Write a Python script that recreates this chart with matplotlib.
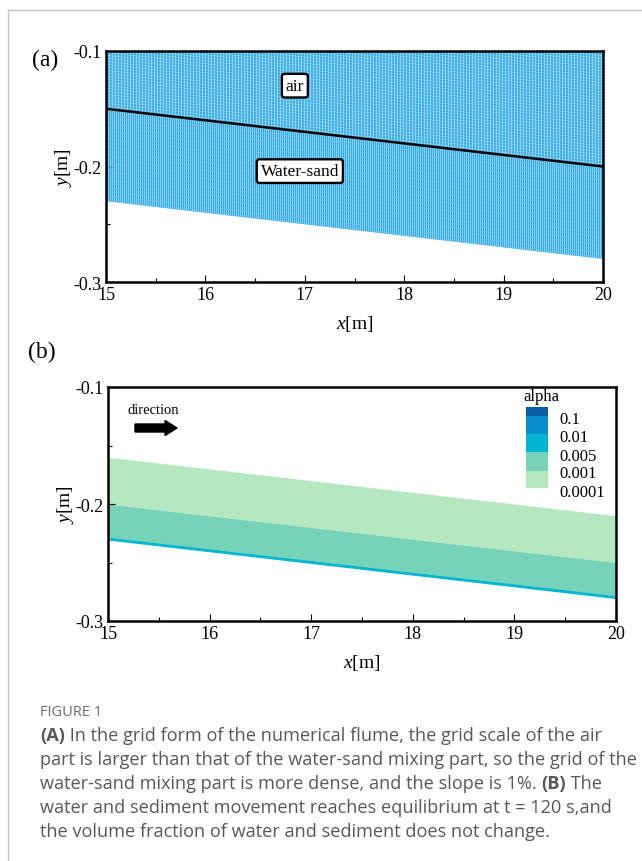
import numpy as np
import matplotlib
matplotlib.use("Agg")
import matplotlib.pyplot as plt
from matplotlib.patches import Polygon, Rectangle, FancyArrow
from matplotlib.collections import LineCollection
from matplotlib.lines import Line2D

# ---- data -------------------------------------------------------------
x_ends = [15.0, 20.0]                 # flume section shown [m]
surface_y = [-0.15, -0.20]            # free surface / mixing interface (a)
bed_y = [-0.23, -0.28]                # sloped bed, slope 1%
top_y = -0.10

# volume fraction bands (b)
alpha_0001_top = [-0.16, -0.21]
alpha_001_top = [-0.20, -0.25]
alpha_bed = [-0.23, -0.28]

alpha_levels = ["0.1", "0.01", "0.005", "0.001", "0.0001"]
alpha_colors = ["#0a5ca3", "#0a8dcb", "#00b6d2", "#76d3b9", "#b5e7c0"]

x_ticks = [15, 16, 17, 18, 19, 20]
y_ticks = [-0.3, -0.2, -0.1]
y_ticklabels = ["-0.3", "-0.2", "-0.1"]

W, H = 642, 862
serif = ["Liberation Serif", "DejaVu Serif"]

plt.rcParams["mathtext.fontset"] = "custom"
plt.rcParams["mathtext.it"] = "Liberation Serif:italic"
plt.rcParams["mathtext.rm"] = "Liberation Serif"

fig = plt.figure(figsize=(W / 100, H / 100), dpi=100)


def fig_rect(left, top, right, bottom):
    return [left / W, 1 - bottom / H, (right - left) / W, (bottom - top) / H]


def style_axes(ax):
    ax.set_xlim(15, 20)
    ax.set_ylim(-0.3, -0.1)
    ax.set_xticks(x_ticks)
    ax.set_xticks(np.arange(15.5, 20, 1.0), minor=True)
    ax.set_yticks(y_ticks)
    ax.set_yticklabels(y_ticklabels)
    ax.set_yticks([-0.25, -0.15], minor=True)
    ax.tick_params(which="both", direction="in", top=False, right=False)
    ax.tick_params(which="major", length=5, width=0.8, labelsize=13, pad=3)
    ax.tick_params(which="minor", length=3, width=0.8)
    for lab in ax.get_xticklabels() + ax.get_yticklabels():
        lab.set_family(serif)
    for s in ax.spines.values():
        s.set_linewidth(1.8)
        s.set_zorder(10)
    ax.set_xlabel("$\\it{x}$[m]", fontsize=14, family=serif, labelpad=7)
    ax.set_ylabel("$\\it{y}$[m]", fontsize=14, family=serif, labelpad=0)


# ---- panel (a): computational grid -----------------------------------
ax1 = fig.add_axes(fig_rect(106, 52, 603, 283))
style_axes(ax1)
xs = np.array(x_ends)
air_poly = Polygon(list(zip(xs, [top_y, top_y])) + list(zip(xs[::-1], surface_y[::-1])),
                   closed=True, facecolor="#3aaee6", edgecolor="none", zorder=1)
water_poly = Polygon(list(zip(xs, surface_y)) + list(zip(xs[::-1], bed_y[::-1])),
                     closed=True, facecolor="#2ea8e3", edgecolor="none", zorder=1)
ax1.add_patch(air_poly)
ax1.add_patch(water_poly)

# pixel columns of the x range, so mesh lines sit on whole pixels
px0 = ax1.transData.transform((x_ends[0], 0))[0]
px1 = ax1.transData.transform((x_ends[1], 0))[0]
inv = ax1.transData.inverted()


def mesh(ax, poly, nx_px, dy, vcolor, hcolor):
    cols = np.arange(np.floor(px0), np.ceil(px1), nx_px) + 0.5
    xv = [inv.transform((c, 0))[0] for c in cols]
    vsegs = [[(x, -0.35), (x, -0.05)] for x in xv]
    slope = (surface_y[1] - surface_y[0]) / (x_ends[1] - x_ends[0])
    hsegs = [[(15, off), (20, off + slope * 5)] for off in np.arange(-0.40, 0.0, dy)]
    lc = LineCollection(vsegs, colors=vcolor, linewidths=0.72, zorder=2)
    lc.set_snap(False)
    lc.set_clip_path(poly)
    ax.add_collection(lc)
    lc = LineCollection(hsegs, colors=hcolor, linewidths=0.4, zorder=2)
    lc.set_clip_path(poly)
    ax.add_collection(lc)


mesh(ax1, air_poly, 3, 0.0026, "#8fd2f3", "#9ad6f4")
mesh(ax1, water_poly, 2, 0.0035, "#8ccff2", "#6cc3ef")
ax1.plot(x_ends, surface_y, color="black", lw=1.8, zorder=5)

box = dict(boxstyle="round,pad=0.22,rounding_size=0.15", facecolor="white",
           edgecolor="black", linewidth=1.7)
ax1.text(16.9, -0.130, "air", fontsize=12.5, family=serif, ha="center", va="center",
         bbox=box, zorder=6)
ax1.text(16.95, -0.204, "Water-sand", fontsize=12.5, family=serif, ha="center",
         va="center", bbox=box, zorder=6)

# ---- panel (b): volume fraction ---------------------------------------
ax2 = fig.add_axes(fig_rect(108, 388, 616, 622))
ax2.fill_between(x_ends, alpha_001_top, alpha_0001_top, color=alpha_colors[4],
                 lw=0, zorder=1)
ax2.fill_between(x_ends, alpha_bed, alpha_001_top, color=alpha_colors[3],
                 lw=0, zorder=1)
ax2.plot(x_ends, alpha_bed, color=alpha_colors[2], lw=2.0, zorder=2)
style_axes(ax2)

# contour legend
heights = [9, 18, 18, 19, 17]
y0 = 408
for col, h in zip(alpha_colors, heights):
    ax2.add_patch(Rectangle(((526 - 108) / 508, (622 - y0 - h) / 234), 22 / 508, h / 234,
                            transform=ax2.transAxes, facecolor=col, edgecolor="none",
                            zorder=6))
    y0 += h
lab_y = [420, 438, 457, 474, 493]
for lab, py in zip(alpha_levels, lab_y):
    ax2.text((559 - 108) / 508, (622 - py) / 234, lab, transform=ax2.transAxes,
             fontsize=12, family=serif, ha="left", va="center", zorder=6)
ax2.text((541 - 108) / 508, (622 - 397) / 234, "alpha", transform=ax2.transAxes,
         fontsize=12, family=serif, ha="center", va="center", zorder=6)

ax2.text((153 - 108) / 508, (622 - 411) / 234, "direction", transform=ax2.transAxes,
         fontsize=10.5, family=serif, ha="center", va="center")
ax2.add_patch(FancyArrow((135 - 108) / 508, (622 - 429) / 234, 30 / 508, 0,
                         width=8 / 234, head_width=15 / 234, head_length=12 / 508,
                         length_includes_head=False, transform=ax2.transAxes,
                         color="black", zorder=6))

# panel tags
fig.text(45 / W, 1 - 60 / H, "(a)", fontsize=17, family=serif, ha="center", va="center")
fig.text(42 / W, 1 - 352 / H, "(b)", fontsize=17, family=serif, ha="center", va="center")

# page frame
fig.add_artist(Line2D([8 / W, 8 / W], [0, 1 - 11 / H], transform=fig.transFigure,
                      color="#c4c4c4", lw=1.0))
fig.add_artist(Line2D([8 / W, 1], [1 - 11 / H, 1 - 11 / H], transform=fig.transFigure,
                      color="#c4c4c4", lw=1.0))

# ---- caption -----------------------------------------------------------
cap_font = ["Open Sans", "DejaVu Sans"]
cap_color = "#585858"
fig.text(40 / W, 1 - 713 / H, "FIGURE 1", fontsize=10.5, family=cap_font,
         color="#6a6a6a", ha="left", va="center")

caption_lines = [
    [("(A)", "bold"), (" In the grid form of the numerical flume, the grid scale of the air", "normal")],
    [("part is larger than that of the water-sand mixing part, so the grid of the", "normal")],
    [("water-sand mixing part is more dense, and the slope is 1%. ", "normal"), ("(B)", "bold"), (" The", "normal")],
    [("water and sediment movement reaches equilibrium at t = 120 s,and", "normal")],
    [("the volume fraction of water and sediment does not change.", "normal")],
]
renderer = fig.canvas.get_renderer()
for i, segs in enumerate(caption_lines):
    py = 736 + 24 * i
    px = 40
    for txt, wt in segs:
        t = fig.text(px / W, 1 - py / H, txt, fontsize=13.1, family=cap_font,
                     weight=wt, color=cap_color, ha="left", va="center")
        bb = t.get_window_extent(renderer)
        px += bb.width

fig.savefig("out.png", dpi=100)
